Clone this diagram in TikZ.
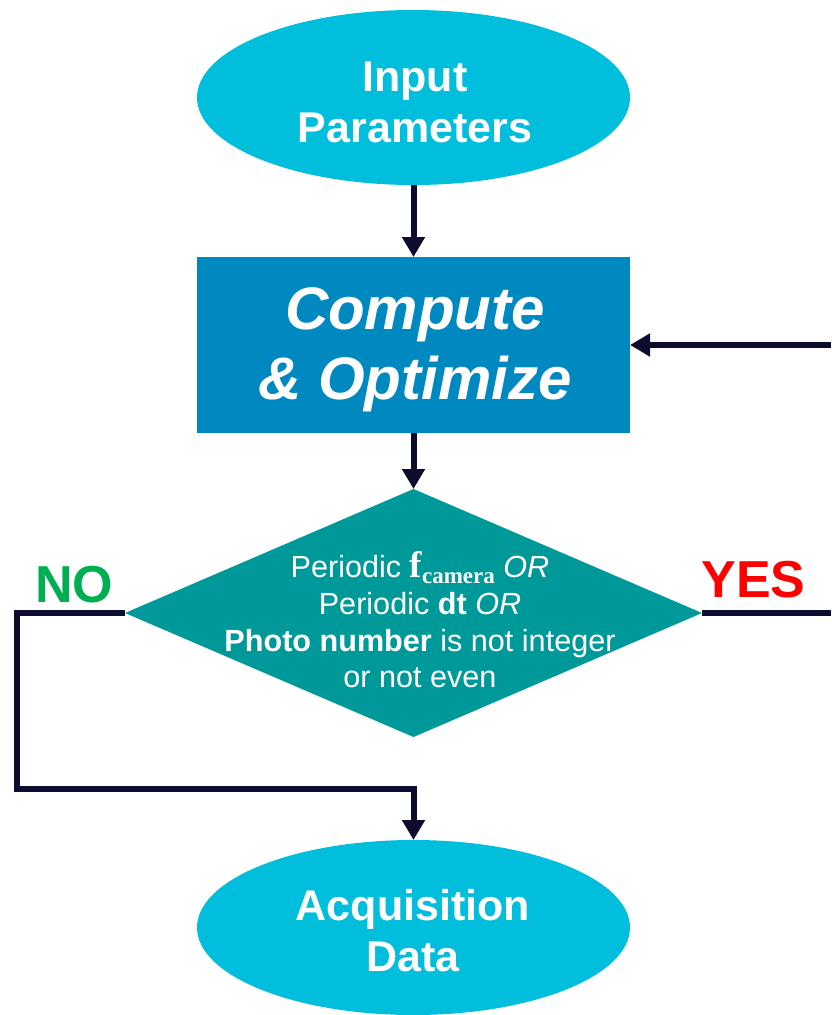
\documentclass[tikz,border=0pt]{standalone}
\usepackage{fontspec}
\setmainfont{Liberation Sans}
\newfontfamily\timesfam{Liberation Serif}
\usetikzlibrary{shapes.geometric,arrows.meta}

\definecolor{termfill}{RGB}{0,190,220}
\definecolor{procfill}{RGB}{0,136,192}
\definecolor{decfill}{RGB}{0,153,153}
\definecolor{linkcol}{RGB}{12,12,46}
\definecolor{nogreen}{RGB}{0,176,80}
\definecolor{yesred}{RGB}{255,0,0}

\begin{document}
\begin{tikzpicture}[x=1pt,y=-1pt,
  terminal/.style={ellipse, fill=termfill, minimum width=433pt, minimum height=175pt, inner sep=0pt, outer sep=0pt},
  process/.style={rectangle, fill=procfill, minimum width=433pt, minimum height=176pt, inner sep=0pt, outer sep=0pt},
  decision/.style={diamond, fill=decfill, minimum width=577pt, minimum height=248pt, inner sep=0pt, outer sep=0pt},
  termtext/.style={text=white, align=center, inner sep=0pt, font=\bfseries\fontsize{43}{51}\selectfont},
  proctext/.style={text=white, align=center, inner sep=0pt, font=\bfseries\itshape\fontsize{60}{70}\selectfont},
  dectext/.style={text=white, align=center, inner sep=0pt, font=\fontsize{30.6}{36.7}\selectfont},
  answer/.style={anchor=base, inner sep=0pt, font=\bfseries\fontsize{52}{52}\selectfont},
  link/.style={draw=linkcol, line width=6pt},
  flow/.style={link, -{Triangle[width=22pt,length=20pt]}},
]
\useasboundingbox (0,0) rectangle (831,1015);

% shapes
\node[terminal] (inp) at (413.5,97.5) {};
\node[process]  (comp) at (413.5,345) {};
\node[decision] (dec) at (413.5,613) {};
\node[terminal] (acq) at (413.5,927.5) {};

% texts
\node[termtext] (inptxt) at (415,102) {Input\\Parameters};
\node[proctext] (comptxt) at (415,350) {Compute\\\& Optimize};
\node[dectext] (dectxt) at (420,620) {Periodic {\fontsize{37}{37}\selectfont\timesfam\bfseries f}\raisebox{-6pt}{\fontsize{23}{23}\selectfont\timesfam\bfseries camera} \textit{OR}\\
Periodic \textbf{dt} \textit{OR}\\
\textbf{Photo number} is not integer\\
or not even};
\node[termtext] (acqtxt) at (413,931) {Acquisition\\Data};

\node[answer, text=nogreen] (nolbl) at (74,602) {NO};
\node[answer, text=yesred] (yeslbl) at (753.5,597) {YES};

% connectors
\coordinate (noturn) at (16.5,789);
\coordinate (yesend) at (831,613);
\coordinate (loopin) at (831,345);

\draw[flow] (inp.south) -- (comp.north);
\draw[flow] (comp.south) -- (dec.north);
\draw[flow, line join=miter] (dec.west) -| (noturn) -| (acq.north);
\draw[link] (dec.east) -- (yesend);
\draw[flow] (loopin) -- (comp.east);
\end{tikzpicture}
\end{document}
